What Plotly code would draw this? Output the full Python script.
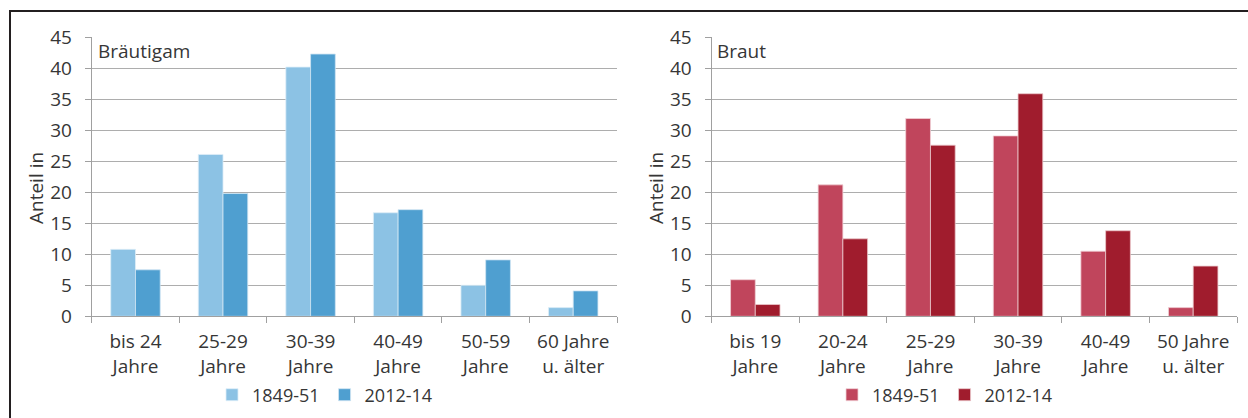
import plotly.graph_objects as go

# Data
cats_groom = ["bis 24<br>Jahre", "25-29<br>Jahre", "30-39<br>Jahre", "40-49<br>Jahre", "50-59<br>Jahre", "60 Jahre<br>u. älter"]
groom_1849 = [10.8, 26.1, 40.2, 16.7, 5.0, 1.4]
groom_2012 = [7.5, 19.8, 42.3, 17.2, 9.1, 4.1]

cats_bride = ["bis 19<br>Jahre", "20-24<br>Jahre", "25-29<br>Jahre", "30-39<br>Jahre", "40-49<br>Jahre", "50 Jahre<br>u. älter"]
bride_1849 = [5.9, 21.2, 31.9, 29.1, 10.5, 1.4]
bride_2012 = [1.9, 12.5, 27.6, 35.9, 13.8, 8.1]

series_names = ["1849-51", "2012-14"]
y_ticks = [0, 5, 10, 15, 20, 25, 30, 35, 40, 45]

W, H = 1248, 418
FONT = "Open Sans, Noto Sans, sans-serif"
TXT = "#363636"
GRID = "#ADADAD"
AX = "#A0A0A0"

def px(x):
    return x / W

def py(y):
    return 1 - y / H

fig = go.Figure()
fig.add_trace(go.Bar(x=cats_groom, y=groom_1849, name=series_names[0], marker=dict(color="#8CC2E4", line=dict(color="#DDEEF8", width=0.8)), xaxis="x", yaxis="y", legend="legend"))
fig.add_trace(go.Bar(x=cats_groom, y=groom_2012, name=series_names[1], marker=dict(color="#4F9FD0", line=dict(color="#CFE5F3", width=0.8)), xaxis="x", yaxis="y", legend="legend"))
fig.add_trace(go.Bar(x=cats_bride, y=bride_1849, name=series_names[0], marker=dict(color="#C0455C", line=dict(color="#F0D0D6", width=0.8)), xaxis="x2", yaxis="y2", legend="legend2"))
fig.add_trace(go.Bar(x=cats_bride, y=bride_2012, name=series_names[1], marker=dict(color="#A01C2D", line=dict(color="#EBC8CC", width=0.8)), xaxis="x2", yaxis="y2", legend="legend2"))

ydom = [py(316.3), py(37.3)]
xcommon = dict(type="category", showline=True, linecolor=AX, linewidth=1,
               ticks="outside", tickson="boundaries", ticklen=6, tickcolor=AX,
               showgrid=False, tickfont=dict(family=FONT, size=19, color=TXT),
               ticklabelstandoff=8, range=[-0.5, 5.5], automargin=False)
ycommon = dict(range=[0, 45], tickvals=y_ticks, showline=True, linecolor=AX, linewidth=1,
               ticks="outside", ticklen=6, tickcolor=AX, showgrid=True, gridcolor=GRID,
               gridwidth=1, zeroline=False, tickfont=dict(family=FONT, size=19, color=TXT),
               ticklabelstandoff=9, domain=ydom, automargin=False)

fig.update_layout(
    width=W, height=H,
    margin=dict(l=0, r=0, t=0, b=0, autoexpand=False),
    paper_bgcolor="white", plot_bgcolor="white",
    barmode="group", bargap=0.435, bargroupgap=0,
    font=dict(family=FONT, color=TXT),
    xaxis=dict(domain=[px(91.7), px(617)], anchor="y", **xcommon),
    yaxis=dict(anchor="x", **ycommon),
    xaxis2=dict(domain=[px(711.5), px(1237)], anchor="y2", **xcommon),
    yaxis2=dict(anchor="x2", **ycommon),
    legend=dict(orientation="h", x=px(325), y=py(395), xanchor="center", yanchor="middle",
                font=dict(family=FONT, size=18, color=TXT), bgcolor="rgba(0,0,0,0)",
                itemwidth=30, tracegroupgap=0),
    legend2=dict(orientation="h", x=px(945), y=py(395), xanchor="center", yanchor="middle",
                 font=dict(family=FONT, size=18, color=TXT), bgcolor="rgba(0,0,0,0)",
                 itemwidth=30, tracegroupgap=0),
    showlegend=True,
)

annos = [
    dict(text="Bräutigam", x=px(96), y=py(51), xanchor="left", yanchor="middle"),
    dict(text="Braut", x=px(715), y=py(51), xanchor="left", yanchor="middle"),
    dict(text="Anteil in", x=px(36), y=py(188), xanchor="center", yanchor="middle", textangle=-90),
    dict(text="Anteil in", x=px(656), y=py(188), xanchor="center", yanchor="middle", textangle=-90),
]
for a in annos:
    fig.add_annotation(xref="paper", yref="paper", showarrow=False,
                       font=dict(family=FONT, size=19, color=TXT), **a)

# frame lines
fig.add_shape(type="line", xref="paper", yref="paper", x0=px(9), x1=1, y0=py(11), y1=py(11),
              line=dict(color="#231F20", width=2))
fig.add_shape(type="line", xref="paper", yref="paper", x0=px(10), x1=px(10), y0=py(10), y1=0,
              line=dict(color="#231F20", width=2))

fig.write_html("out.html", config={"displayModeBar": False},
               post_script="document.body.style.margin='0';document.body.style.overflow='hidden';")
